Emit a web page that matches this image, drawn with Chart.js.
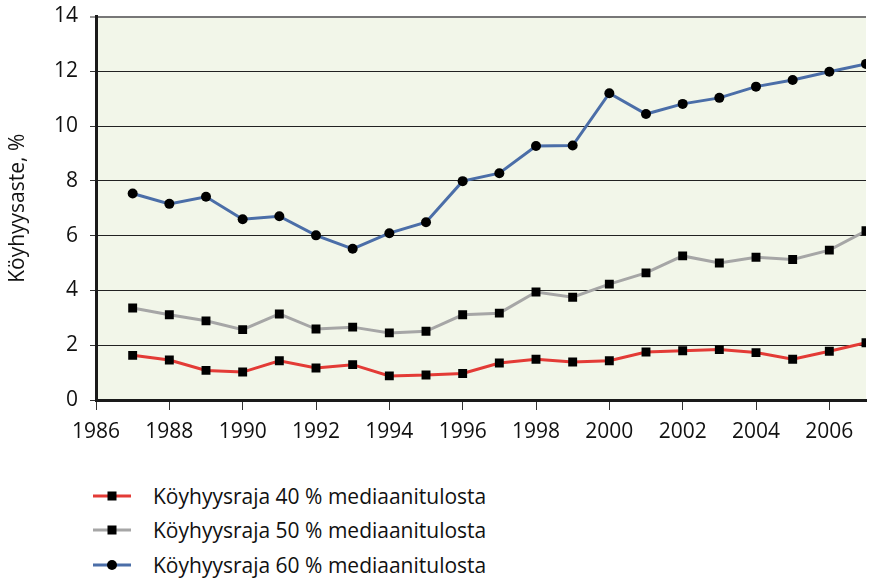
<!DOCTYPE html>
<html>
<head>
<meta charset="utf-8">
<script src="https://cdn.jsdelivr.net/npm/chart.js@4.4.1/dist/chart.umd.min.js"></script>
<style>
  html, body { margin: 0; padding: 0; background: #ffffff; }
  #wrap { position: relative; width: 873px; height: 580px; overflow: hidden; font-family: "Open Sans", sans-serif; }
  #c { position: absolute; left: 0; top: 0; }
  .leg { position: absolute; left: 93px; height: 26px; display: flex; align-items: center; font-size: 21px; color: #111; white-space: nowrap; }
  .leg svg { margin-right: 22px; }
</style>
</head>
<body>
<div id="wrap">
  <canvas id="c" width="873" height="460"></canvas>
  <div id="legend"></div>
</div>
<script>
const years = [1987,1988,1989,1990,1991,1992,1993,1994,1995,1996,1997,1998,1999,2000,2001,2002,2003,2004,2005,2006,2007];
const raja40 = [1.63,1.46,1.08,1.02,1.43,1.17,1.29,0.88,0.91,0.97,1.35,1.49,1.39,1.43,1.75,1.80,1.84,1.73,1.49,1.78,2.09];
const raja50 = [3.36,3.11,2.89,2.57,3.14,2.59,2.66,2.45,2.51,3.11,3.17,3.94,3.75,4.23,4.64,5.26,5.00,5.21,5.13,5.47,6.18];
const raja60 = [7.54,7.16,7.42,6.60,6.71,6.01,5.52,6.09,6.49,7.99,8.28,9.27,9.29,11.20,10.44,10.81,11.03,11.44,11.68,11.98,12.27];
const seriesNames = ["Köyhyysraja 40 % mediaanitulosta","Köyhyysraja 50 % mediaanitulosta","Köyhyysraja 60 % mediaanitulosta"];
const xTickLabels = [1986,1988,1990,1992,1994,1996,1998,2000,2002,2004,2006];
const yTitle = "Köyhyysaste, %";
const xMin = 1986, xMax = 2007;
const yMin = 0, yMax = 14, yStep = 2;

const colors = ["#e33b36", "#a6a6a6", "#4b6ea8"];
const styles = ["rect", "rect", "circle"];
const radii = [6.3, 6.3, 5];

function toPts(arr) { return years.map((y, i) => ({ x: y, y: arr[i] })); }

const bgPlugin = {
  id: 'bg',
  beforeDraw(chart) {
    const { ctx, chartArea: a } = chart;
    ctx.save();
    ctx.fillStyle = '#f2f6e9';
    ctx.fillRect(a.left, a.top, a.right - a.left, a.bottom - a.top);
    ctx.restore();
  }
};

const FONT = { family: "'Open Sans', sans-serif", size: 21 };

new Chart(document.getElementById('c'), {
  type: 'line',
  data: {
    datasets: [raja40, raja50, raja60].map((arr, i) => ({
      label: seriesNames[i],
      data: toPts(arr),
      borderColor: colors[i],
      backgroundColor: '#000',
      borderWidth: 3,
      pointStyle: styles[i],
      pointRadius: radii[i],
      pointBackgroundColor: '#000',
      pointBorderColor: '#000',
      pointBorderWidth: 0,
      tension: 0,
      fill: false
    }))
  },
  options: {
    responsive: false,
    animation: false,
    layout: { padding: { top: 16.5, right: 7, left: 0, bottom: 0 } },
    plugins: { legend: { display: false }, tooltip: { enabled: false } },
    scales: {
      x: {
        type: 'linear',
        min: xMin, max: xMax,
        afterBuildTicks(scale) { scale.ticks = xTickLabels.map(v => ({ value: v })); },
        afterFit(scale) { scale.height = 60; scale.paddingLeft = 0; scale.paddingRight = 0; },
        ticks: { color: '#111', font: FONT, padding: 9, maxRotation: 0, autoSkip: false, callback: v => String(v) },
        grid: { drawOnChartArea: false, drawTicks: true, tickLength: 10, color: '#333', tickWidth: 1 },
        border: { display: true, color: '#1a1a1a', width: 3 }
      },
      y: {
        min: yMin, max: yMax,
        afterFit(scale) { scale.width = 96; scale.paddingTop = 0; scale.paddingBottom = 0; },
        ticks: { stepSize: yStep, color: '#111', font: FONT, padding: 12 },
        grid: {
          drawOnChartArea: true, drawTicks: true, tickLength: 6,
          color: ctx => (ctx.tick && ctx.tick.value === yMax) ? '#777' : '#222',
          lineWidth: ctx => (ctx.tick && ctx.tick.value === yMax) ? 2 : 1,
          tickColor: '#333', tickWidth: 1
        },
        border: { display: true, color: '#1a1a1a', width: 3 },
        title: { display: true, text: yTitle, color: '#111', font: FONT, padding: { top: 5, bottom: 0 } }
      }
    }
  },
  plugins: [bgPlugin]
});

// HTML legend built from the series names
const legend = document.getElementById('legend');
const rowY = [496, 530, 565];
seriesNames.forEach((name, i) => {
  const d = document.createElement('div');
  d.className = 'leg';
  d.style.top = (rowY[i] - 13) + 'px';
  const marker = styles[i] === 'circle'
    ? '<circle cx="19" cy="13" r="5" fill="#000"/>'
    : '<rect x="14.5" y="8.5" width="9" height="9" fill="#000"/>';
  d.innerHTML = '<svg width="38" height="26"><line x1="0" y1="13" x2="38" y2="13" stroke="' + colors[i] + '" stroke-width="3"/>' + marker + '</svg><span>' + name + '</span>';
  legend.appendChild(d);
});
</script>
</body>
</html>
